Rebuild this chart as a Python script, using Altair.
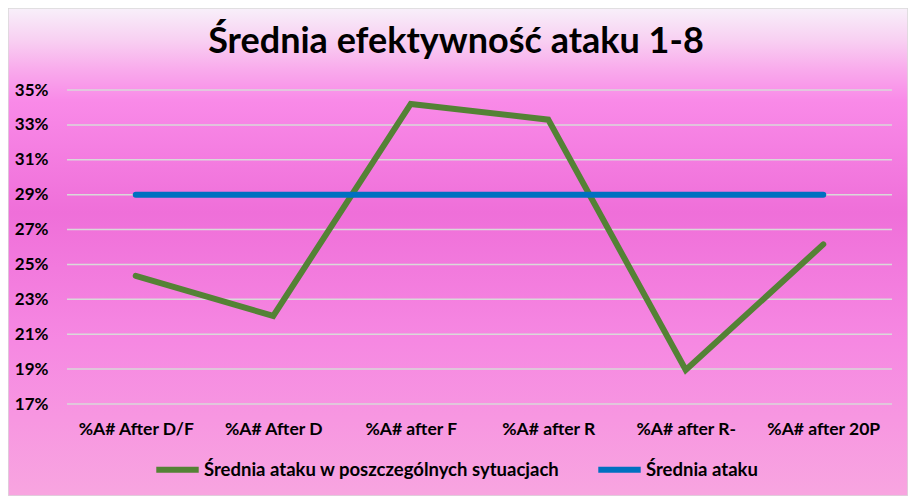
import altair as alt
import pandas as pd

categories = ["%A# After D/F", "%A# After D", "%A# after F", "%A# after R", "%A# after R-", "%A# after 20P"]
green_values = [0.2435, 0.2205, 0.342, 0.333, 0.1895, 0.2615]
blue_values = [0.290, 0.290, 0.290, 0.290, 0.290, 0.290]
series_names = ["Średnia ataku w poszczególnych sytuacjach", "Średnia ataku"]
series_colors = ["#548235", "#0070C0"]
y_ticks = [0.17, 0.19, 0.21, 0.23, 0.25, 0.27, 0.29, 0.31, 0.33, 0.35]
title_text = ["Średnia efektywność ataku 1-8"]

W, H = 825, 314
PL, PT, PR, PB = 59, 82, 16, 92
FONT = "Lato"

green_df = pd.DataFrame({"cat": categories, "val": green_values, "series": series_names[0]})
blue_df = pd.DataFrame({"cat": categories, "val": blue_values, "series": series_names[1]})
tick_df = pd.DataFrame({"val": y_ticks})
title_df = pd.DataFrame({"t": title_text})

x_enc = alt.X("cat:N", sort=categories,
              scale=alt.Scale(type="point", padding=0.5),
              axis=alt.Axis(title=None, labelAngle=0, labelFont=FONT, labelFontSize=17.5,
                            labelFontWeight="bold", labelColor="#000000", labelPadding=16,
                            labelOverlap=False, domain=False, ticks=False, grid=False, zindex=1))
y_scale = alt.Scale(domain=[0.17, 0.35], nice=False, zero=False)
y_axis = alt.Axis(title=None, values=y_ticks, format=".0%", labelFont=FONT,
                  labelFontSize=17, labelFontWeight="bold", labelColor="#000000",
                  labelPadding=19, labelOverlap=False, labelFlush=False,
                  domain=False, ticks=False, grid=False, zindex=1)
y_enc = alt.Y("val:Q", scale=y_scale, axis=y_axis)
color_enc = alt.Color("series:N",
                      scale=alt.Scale(domain=series_names, range=series_colors),
                      legend=alt.Legend(title=None, orient="none", legendX=86, legendY=355,
                                        direction="horizontal", symbolType="stroke",
                                        symbolStrokeWidth=6, symbolSize=1800,
                                        labelFont=FONT, labelFontSize=18.5, labelFontWeight="bold",
                                        labelColor="#000000", labelLimit=600, columnPadding=26,
                                        labelOffset=2, zindex=1))

bg = alt.Chart(pd.DataFrame({"a": [0]})).mark_rect(
    fill=alt.LinearGradient(
        gradient="linear", x1=0, x2=0, y1=0, y2=1,
        stops=[
            alt.GradientStop(offset=0.0, color="#f8f0fa"),
            alt.GradientStop(offset=0.066, color="#f8d0f2"),
            alt.GradientStop(offset=0.127, color="#f9aaec"),
            alt.GradientStop(offset=0.19, color="#f98ae8"),
            alt.GradientStop(offset=0.42, color="#ef6fd9"),
            alt.GradientStop(offset=0.68, color="#f688e2"),
            alt.GradientStop(offset=1.0, color="#f8a5e0"),
        ]),
    stroke="#d9d9d9", strokeWidth=1.5, clip=False
).encode(x=alt.value(-PL), x2=alt.value(W + PR), y=alt.value(-PT), y2=alt.value(H + PB))

grid = alt.Chart(tick_df).mark_rule(color="#d9d9d9", strokeWidth=1.5).encode(
    y=y_enc, x=alt.value(0), x2=alt.value(W))

title = alt.Chart(title_df).mark_text(
    font=FONT, fontSize=36, fontWeight="bold", color="#000000",
    align="center", baseline="alphabetic", clip=False
).encode(text="t:N", x=alt.value(W / 2 - 23.5), y=alt.value(-37))

green_line = alt.Chart(green_df).mark_line(strokeWidth=6, strokeCap="round", strokeJoin="miter").encode(
    x=x_enc, y=y_enc, color=color_enc)
blue_line = alt.Chart(blue_df).mark_line(strokeWidth=6, strokeCap="round").encode(
    x=x_enc, y=y_enc, color=color_enc)

chart = alt.layer(bg, grid, title, green_line, blue_line).properties(
    width=W, height=H,
    autosize=alt.AutoSizeParams(type="none"),
    padding={"left": PL, "top": PT, "right": PR, "bottom": PB},
    background="#ffffff",
).configure_view(stroke=None).configure_axis(labelOverlap=False)

chart.save("out.html", embed_options={"renderer": "svg", "actions": False})
